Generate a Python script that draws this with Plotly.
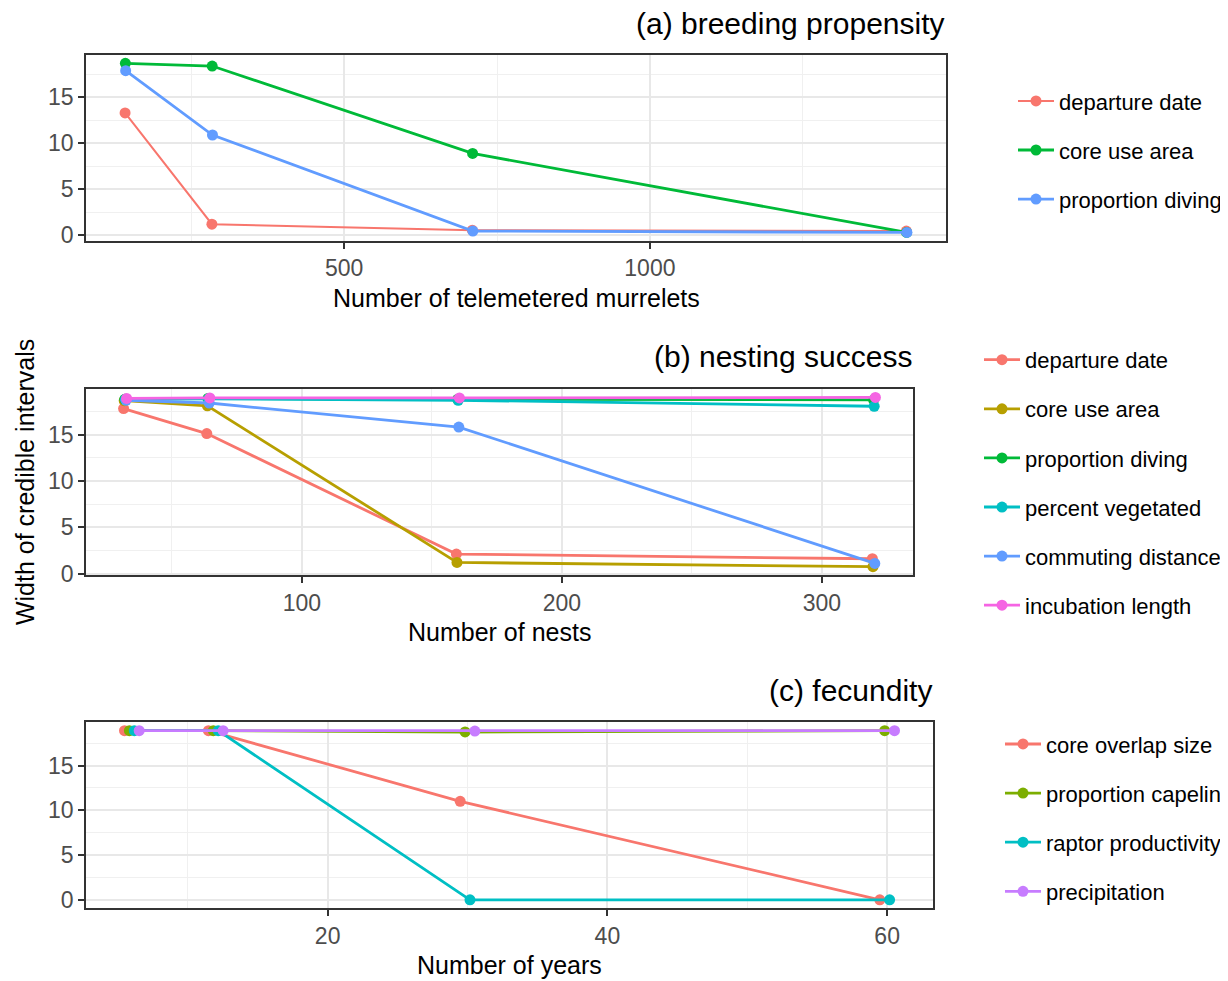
import plotly.graph_objects as go

# ---------------- data ----------------
# (a) breeding propensity
a_x = [142, 284, 710, 1420]
a_names = ["departure date", "core use area", "proportion diving"]
a_departure = [13.3, 1.2, 0.55, 0.45]
a_core = [18.7, 18.4, 8.9, 0.3]
a_diving = [17.9, 10.9, 0.45, 0.3]

# (b) nesting success
b_x = [32, 64, 160, 320]
b_names = ["departure date", "core use area", "proportion diving",
           "percent vegetated", "commuting distance", "incubation length"]
b_departure = [17.8, 15.1, 2.1, 1.6]
b_core = [18.65, 18.1, 1.2, 0.75]
b_diving = [18.8, 18.9, 18.8, 18.75]
b_veg = [18.8, 18.85, 18.7, 18.05]
b_commute = [18.7, 18.4, 15.8, 1.1]
b_incub = [18.9, 18.95, 18.95, 19.0]

# (c) fecundity
c_x = [6, 12, 30, 60]
c_names = ["core overlap size", "proportion capelin", "raptor productivity", "precipitation"]
c_overlap = [18.9, 18.9, 11.0, 0.0]
c_capelin = [18.9, 18.9, 18.75, 18.9]
c_raptor = [18.9, 18.9, 0.0, 0.0]
c_precip = [18.9, 18.9, 18.85, 18.9]

a_colors = ["#F8766D", "#00BA38", "#619CFF"]
b_colors = ["#F8766D", "#B79F00", "#00BA38", "#00BFC4", "#619CFF", "#F564E3"]
c_colors = ["#F8766D", "#7CAE00", "#00BFC4", "#C77CFF"]

OFF = 8  # page body margin
W, H = 1220, 985
FONT = "Liberation Sans, Arial, sans-serif"
SY = 0.9873  # empirical vertical screen scale compensation


def fx(px):
    return (px - OFF) / W


def fy(py, corr=True):
    if corr:
        py = (py - 0.3) / SY
    return 1 - (py - OFF) / H


panels = [
    dict(x=a_x, series=[a_departure, a_core, a_diving], names=a_names, colors=a_colors,
         px=(86, 946), py=(55, 241), title="(a) breeding propensity", title_y=24,
         xlabel="Number of telemetered murrelets", xlabel_y=298, dtick=500,
         legend="legend", dodge=1.4),
    dict(x=b_x, series=[b_departure, b_core, b_diving, b_veg, b_commute, b_incub],
         names=b_names, colors=b_colors,
         px=(86, 913), py=(389, 575), title="(b) nesting success", title_y=357,
         xlabel="Number of nests", xlabel_y=632, dtick=100,
         legend="legend2", dodge=1.4),
    dict(x=c_x, series=[c_overlap, c_capelin, c_raptor, c_precip], names=c_names,
         colors=c_colors,
         px=(86, 933), py=(722, 908), title="(c) fecundity", title_y=690,
         xlabel="Number of years", xlabel_y=965, dtick=20,
         legend="legend3", dodge=1.4),
]

fig = go.Figure()
annotations = []

for k, p in enumerate(panels):
    xa = "x" if k == 0 else f"x{k+1}"
    ya = "y" if k == 0 else f"y{k+1}"
    n = len(p["series"])
    allx, ally = [], []
    for i, (vals, name, col) in enumerate(zip(p["series"], p["names"], p["colors"])):
        off = (i - (n - 1) / 2) * p["dodge"] / n
        xs = [v + off for v in p["x"]]
        allx += xs
        ally += vals
        lw = 2.0 if (k == 0 and i == 0) else 2.8
        fig.add_trace(go.Scatter(
            x=xs, y=vals, name=name, mode="lines+markers",
            line=dict(color=col, width=lw),
            marker=dict(color=col, size=11),
            xaxis=xa, yaxis=ya, legend=p["legend"], legendgroup=f"{k}_{i}",
        ))
    xmin, xmax = min(allx), max(allx)
    ymin, ymax = min(ally), max(ally)
    xr = [xmin - 0.05 * (xmax - xmin), xmax + 0.05 * (xmax - xmin)]
    yr = [ymin - 0.05 * (ymax - ymin), ymax + 0.05 * (ymax - ymin)]
    common = dict(showline=True, linecolor="#333333", linewidth=1.8, mirror=True,
                  ticks="outside", ticklen=6, tickwidth=1.8, tickcolor="#333333",
                  showgrid=True, gridcolor="#E8E8E8", gridwidth=2, zeroline=False,
                  tickfont=dict(size=23, color="#4D4D4D", family=FONT))
    xdom = [fx(p["px"][0]), fx(p["px"][1])]
    ydom = [fy(p["py"][1]), fy(p["py"][0])]
    xkey = "xaxis" if k == 0 else f"xaxis{k+1}"
    ykey = "yaxis" if k == 0 else f"yaxis{k+1}"
    fig.update_layout(**{
        xkey: dict(domain=xdom, range=xr, anchor=ya, tick0=0, dtick=p["dtick"],
                   minor=dict(showgrid=True, gridcolor="#F0F0F0", gridwidth=1.4,
                              tick0=0, dtick=p["dtick"] / 2), **common),
        ykey: dict(domain=ydom, range=yr, anchor=xa, tick0=0, dtick=5,
                   minor=dict(showgrid=True, gridcolor="#F0F0F0", gridwidth=1.4,
                              tick0=0, dtick=2.5), **common),
    })
    annotations.append(dict(text=p["title"], xref="paper", yref="paper",
                            x=fx(p["px"][1]), y=fy(p["title_y"]),
                            xanchor="right", yanchor="middle", showarrow=False,
                            borderpad=0,
                            font=dict(size=30, color="black", family=FONT)))
    annotations.append(dict(text=p["xlabel"], xref="paper", yref="paper",
                            x=fx((p["px"][0] + p["px"][1]) / 2), y=fy(p["xlabel_y"]),
                            xanchor="center", yanchor="middle", showarrow=False,
                            font=dict(size=25, color="black", family=FONT)))

annotations.append(dict(text="Width of credible intervals", xref="paper", yref="paper",
                        x=fx(25), y=fy(482), xanchor="center", yanchor="middle",
                        textangle=-90, showarrow=False,
                        font=dict(size=25, color="black", family=FONT)))

leg_common = dict(xanchor="left", yanchor="top", bgcolor="rgba(0,0,0,0)",
                  borderwidth=0, font=dict(size=22, color="black", family=FONT),
                  itemwidth=36, tracegroupgap=17.5)
fig.update_layout(
    width=W, height=H, margin=dict(l=0, r=0, t=0, b=0),
    paper_bgcolor="white", plot_bgcolor="white",
    font=dict(family=FONT),
    annotations=annotations,
    legend=dict(x=fx(1013), y=fy(81, False), **leg_common),
    legend2=dict(x=fx(979), y=fy(343, False), **leg_common),
    legend3=dict(x=fx(1000), y=fy(732, False), **leg_common),
)

fig.write_html("out.html")
